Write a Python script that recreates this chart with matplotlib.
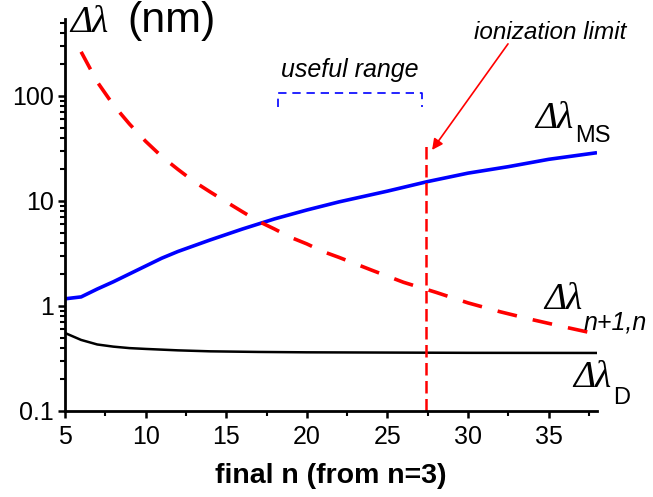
import numpy as np
import matplotlib
matplotlib.use("Agg")
import matplotlib.pyplot as plt
from matplotlib.ticker import FixedLocator, FixedFormatter, LogLocator, NullFormatter

plt.rcParams["font.family"] = ["Liberation Sans", "DejaVu Sans"]

# data
n_ms = [5, 6, 7, 8, 9, 10, 11, 12, 14, 16, 18, 20, 22, 25, 27.5, 30, 32.5, 35, 38]
d_ms = [1.17, 1.22, 1.45, 1.7, 2.02, 2.4, 2.85, 3.3, 4.25, 5.4, 6.75, 8.2, 9.8, 12.4, 15.3,
        18.4, 21.2, 24.9, 28.8]

n_adj = [6, 7, 8, 9, 10, 11, 12, 13, 14, 15, 16, 17, 18, 19, 20, 21, 22, 24, 26, 28, 30, 32, 34, 36, 38]
d_adj = [263, 136, 82, 54, 37, 26.5, 20, 15.3, 12.2, 9.8, 7.9, 6.4, 5.4, 4.5, 3.9, 3.3, 2.9,
         2.2, 1.68, 1.35, 1.07, 0.88, 0.74, 0.63, 0.54]

n_dop = [5, 6, 7, 8, 9, 10, 12, 14, 17, 20, 25, 30, 38]
d_dop = [0.553, 0.475, 0.43, 0.41, 0.397, 0.39, 0.378, 0.37, 0.365, 0.362, 0.36, 0.358, 0.357]

ion_n = 27.4
ion_top = 34
useful = (18.2, 27.15)
useful_y, useful_tip = 107, 78

y_ticks = [0.1, 1, 10, 100]
y_labels = ["0.1", "1", "10", "100"]
x_ticks = [5, 10, 15, 20, 25, 30, 35]

fig = plt.figure(figsize=(6.53, 4.97), dpi=100)
ax = fig.add_axes([65 / 653, 86 / 497, 532 / 653, 392 / 497])

ax.plot(n_ms, d_ms, color="blue", lw=2.6, solid_capstyle="butt")
ax.plot(n_adj, d_adj, color="red", lw=2.6, dashes=(5.5, 4.5))
ax.plot(n_dop, d_dop, color="black", lw=1.8)
ax.plot([ion_n, ion_n], [0.1, ion_top], color="red", lw=1.8, dashes=(5, 2.2))

# useful range bracket
ax.plot([useful[0], useful[0], useful[1], useful[1]],
        [useful_tip, useful_y, useful_y, useful_tip], color="blue", lw=1.2, dashes=(5, 3.5))
ax.text(sum(useful) / 2, 152, "useful range", ha="center", va="baseline",
        fontsize=18, style="italic")

ax.annotate("", xy=(27.77, 30.6), xytext=(32.48, 313),
            arrowprops=dict(arrowstyle="-|>", color="red", lw=1.2,
                            mutation_scale=16, shrinkA=0, shrinkB=0))
ax.text(35.1, 349, "ionization limit", ha="center", va="baseline",
        fontsize=17.5, style="italic")

ax.set_yscale("log")
ax.set_xlim(5, 38)
ax.set_ylim(0.1, 540)
ax.yaxis.set_major_locator(FixedLocator(y_ticks))
ax.yaxis.set_major_formatter(FixedFormatter(y_labels))
ax.yaxis.set_minor_locator(LogLocator(base=10, subs=np.arange(2, 10)))
ax.yaxis.set_minor_formatter(NullFormatter())
ax.set_xticks(x_ticks)
ax.set_xticks(np.arange(7.5, 38, 5), minor=True)

for s in ["top", "right"]:
    ax.spines[s].set_visible(False)
for s in ["left", "bottom"]:
    ax.spines[s].set_linewidth(2)
ax.tick_params(which="major", direction="out", length=5, width=1.8, labelsize=18, pad=3)
ax.tick_params(axis="x", which="major", pad=5)
ax.tick_params(which="minor", direction="out", length=3.5, width=1.5)

ax.set_xlabel("final n (from n=3)", fontsize=20.5, fontweight="bold", labelpad=10)

# greek labels with subscripts
greek = dict(family="Liberation Serif", style="italic", fontsize=27)


def sub_label(x, y, sub, drop, **kw):
    t = ax.text(x, y, "\u0394\u03bb", ha="left", va="baseline", **greek)
    fig.canvas.draw()
    bb = t.get_window_extent()
    base = ax.transData.transform((x, y))[1]
    fig.text((bb.x1 + 1) / fig.bbox.width, (base - drop) / fig.bbox.height, sub,
             ha="left", va="baseline", **kw)


sub_label(34.18, 49.6, "MS", 14, fontsize=17)
sub_label(34.75, 0.936, "n+1,n", 21, fontsize=18, style="italic")
sub_label(36.55, 0.169, "D", 17, fontsize=17)

ax.text(5.3, 407, "\u0394\u03bb", ha="left", va="baseline", **greek)
ax.text(8.9, 407, "(nm)", ha="left", va="baseline", fontsize=31)

fig.savefig("out.png", dpi=100)
